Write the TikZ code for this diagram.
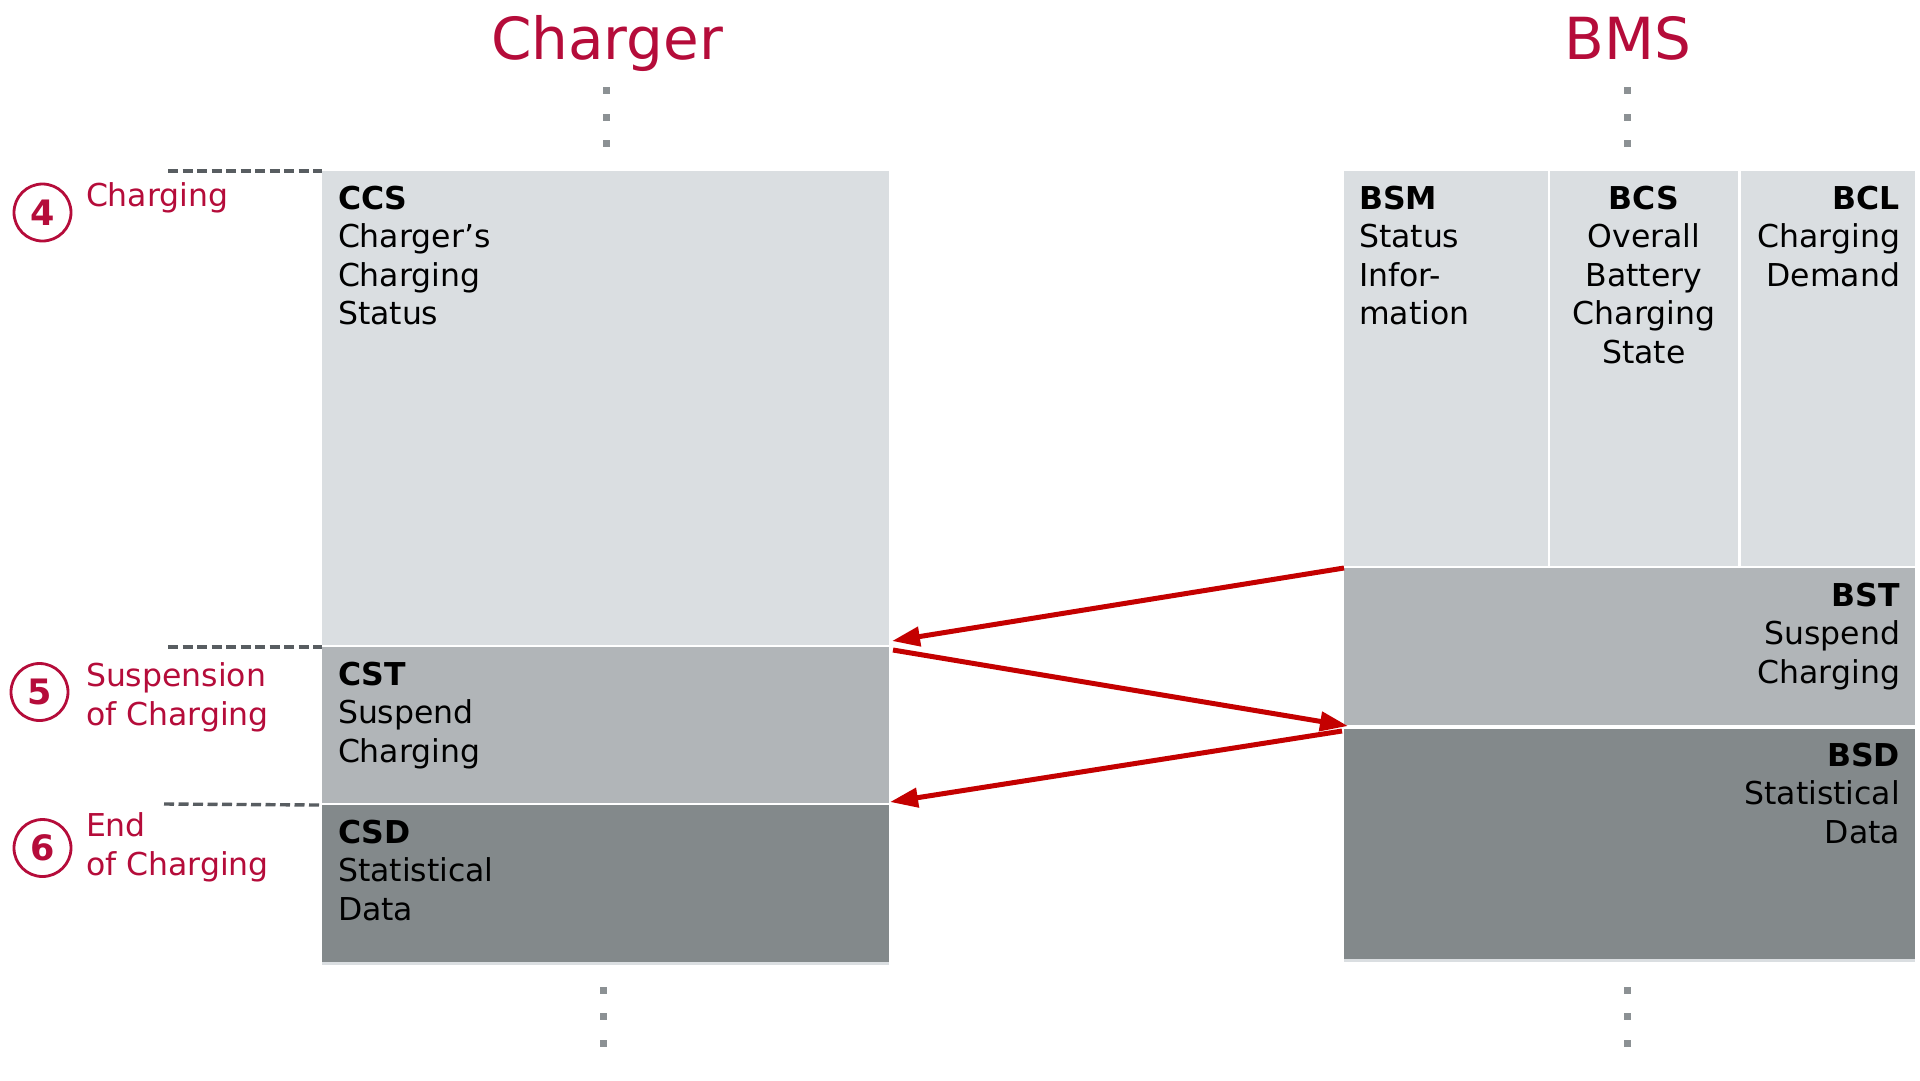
\documentclass[tikz,border=0pt]{standalone}
\usepackage{fontspec}
\setmainfont{DejaVu Sans}
\usetikzlibrary{arrows.meta}
\definecolor{lightg}{RGB}{218,222,225}
\definecolor{midg}{RGB}{177,181,184}
\definecolor{darkg}{RGB}{131,137,139}
\definecolor{titlered}{RGB}{181,12,58}
\definecolor{arrowred}{RGB}{196,0,0}
\definecolor{dashg}{RGB}{88,93,97}
\definecolor{dotg}{RGB}{140,145,148}
\newcommand\boxfont{\fontsize{31.5}{38.5}\selectfont}
\newcommand\titlefont{\fontsize{58}{64}\selectfont}
\newcommand\numfont{\fontsize{35}{38}\selectfont\bfseries}
\tikzset{
  blk/.style={draw=none, inner sep=0pt, outer sep=0pt, anchor=north west},
  txt/.style={inner sep=0pt, outer sep=0pt, font=\boxfont, text=black},
  lbl/.style={inner sep=0pt, outer sep=0pt, font=\boxfont, text=titlered, align=left, anchor=north west},
  ttl/.style={inner sep=0pt, font=\titlefont, text=titlered, anchor=base},
  numc/.style={circle, draw=titlered, line width=2.8pt, minimum size=57pt, inner sep=0pt, text=titlered, font=\numfont},
  phase/.style={draw=dashg, line width=3.4pt, dash pattern=on 10pt off 4.5pt},
  dotsq/.style={fill=dotg, draw=none, minimum size=7pt, inner sep=0pt},
  msg/.style={draw=arrowred, line width=5pt, -{Triangle[length=28pt,width=19pt]}},
}
\begin{document}
\begin{tikzpicture}[x=1pt,y=-1pt]
\useasboundingbox[fill=white] (0,0) rectangle (1920,1080);

% titles
\node[ttl] (tcharger) at (607,59) {Charger};
\node[ttl] (tbms) at (1628,59) {BMS};

% lifeline dots
\foreach \yy [count=\i] in {90,117,143} {
  \node[dotsq] (cdt\i) at (606,\yy) {};
  \node[dotsq] (bdt\i) at (1627,\yy) {};
}
\foreach \yy [count=\i] in {990,1016,1043} {
  \node[dotsq] (cdb\i) at (603,\yy) {};
  \node[dotsq] (bdb\i) at (1627,\yy) {};
}

% charger boxes
\node[blk, fill=lightg, minimum width=567pt, minimum height=474pt] (ccs) at (322,171) {};
\node[blk, fill=midg, minimum width=567pt, minimum height=156pt] (cst) at (322,647) {};
\node[blk, fill=lightg, minimum width=567pt, minimum height=160pt] (csdbg) at (322,805) {};
\node[blk, fill=darkg, minimum width=567pt, minimum height=157pt] (csd) at (322,805) {};

% BMS boxes
\node[blk, fill=lightg, minimum width=204pt, minimum height=395pt] (bsm) at (1344,171) {};
\node[blk, fill=lightg, minimum width=188pt, minimum height=395pt] (bcs) at (1550,171) {};
\node[blk, fill=lightg, minimum width=174pt, minimum height=395pt] (bcl) at (1741,171) {};
\node[blk, fill=midg, minimum width=571pt, minimum height=157pt] (bst) at (1344,568) {};
\node[blk, fill=lightg, minimum width=571pt, minimum height=233pt] (bsdbg) at (1344,729) {};
\node[blk, fill=darkg, minimum width=571pt, minimum height=230pt] (bsd) at (1344,729) {};

% box texts
\node[txt, anchor=north west, align=left] (tccs) at (338,186) {\textbf{CCS}\\Charger’s\\Charging\\Status};
\node[txt, anchor=north west, align=left] (tcst) at (338,662) {\textbf{CST}\\Suspend\\Charging};
\node[txt, anchor=north west, align=left] (tcsd) at (338,820) {\textbf{CSD}\\Statistical\\Data};
\node[txt, anchor=north west, align=left] (tbsm) at (1359,186) {\textbf{BSM}\\Status\\Infor-\\mation};
\node[txt, anchor=north, align=center] (tbcs) at (1644,186) {\textbf{BCS}\\Overall\\Battery\\Charging\\State};
\node[txt, anchor=north east, align=right] (tbcl) at (1900,186) {\textbf{BCL}\\Charging\\Demand};
\node[txt, anchor=north east, align=right] (tbst) at (1900,583) {\textbf{BST}\\Suspend\\Charging};
\node[txt, anchor=north east, align=right] (tbsd) at (1900,743) {\textbf{BSD}\\Statistical\\Data};

% phase markers
\coordinate (p4a) at (168,171);
\coordinate (p5a) at (168,647);
\coordinate (p6a) at (164,804);
\draw[phase] (p4a) -- (ccs.north west);
\draw[phase] (p5a) -- (cst.north west);
\draw[phase] ([xshift=-3pt]csd.north west) -- (p6a);

\node[numc] (n4) at (42.5,212.5) {4};
\node[numc] (n5) at (39.5,692) {5};
\node[numc] (n6) at (42.5,848) {6};
\node[lbl] (l4) at (86,183) {Charging};
\node[lbl] (l5) at (86,663) {Suspension\\of Charging};
\node[lbl] (l6) at (86,813) {End\\of Charging};

% messages
\draw[msg] (bst.north west) -- ([xshift=3pt,yshift=6pt]cst.north east);
\draw[msg] ([xshift=4pt,yshift=-3pt]cst.north east) -- ([xshift=4pt,yshift=3pt]bsd.north west);
\draw[msg] ([xshift=-2pt,yshift=-2pt]bsd.north west) -- ([xshift=1pt,yshift=3pt]csd.north east);
\end{tikzpicture}
\end{document}
